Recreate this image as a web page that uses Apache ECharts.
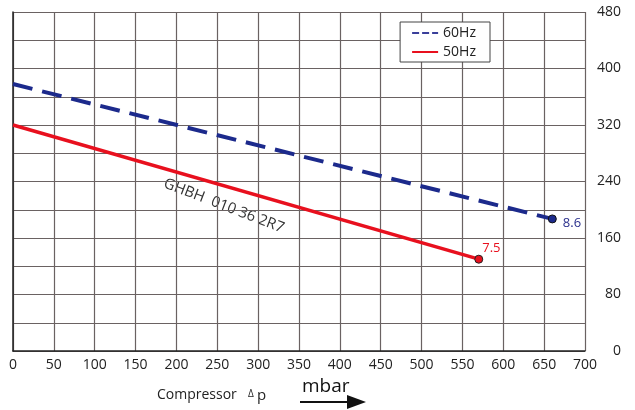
<!DOCTYPE html>
<html>
<head>
<meta charset="utf-8">
<script src="https://cdn.jsdelivr.net/npm/echarts@6/dist/echarts.min.js"></script>
<style>
  html, body { margin: 0; padding: 0; background: #fff; }
  #main { width: 635px; height: 410px; }
</style>
</head>
<body>
<div id="main"></div>
<script>
// data
const seriesNames = ['60Hz', '50Hz'];
const hz60 = [[0, 378], [660, 187]];
const hz50 = [[0, 320], [570, 130]];
const endLabels = ['8.6', '7.5'];
const xTicks = [0, 700, 50];   // min, max, step
const yTicks = [0, 480, 40];   // grid every 40, labels every 80

const chart = echarts.init(document.getElementById('main'));
const font = '"Open Sans", "Noto Sans", sans-serif';
const gridColor = '#6a6262';
const navy = '#1c2a8c';
const red = '#e8101e';

// only the last point gets a marker + label
function lastPointData(pts, label) {
  return pts.map((p, i) => i === pts.length - 1
    ? { value: p, symbolSize: 8, label: { show: true, formatter: label } }
    : { value: p, symbolSize: 0 });
}

const option = {
  animation: false,
  grid: { left: 13, right: 50, top: 12, bottom: 59 },
  xAxis: {
    type: 'value',
    min: xTicks[0], max: xTicks[1], interval: xTicks[2],
    axisLine: { show: true, lineStyle: { color: '#222', width: 1.5 } },
    axisTick: { show: false },
    splitLine: { show: true, lineStyle: { color: gridColor, width: 1.2 } },
    axisLabel: { color: '#222', fontSize: 14, fontFamily: font, margin: 7 }
  },
  yAxis: {
    type: 'value',
    position: 'right',
    min: yTicks[0], max: yTicks[1], interval: yTicks[2],
    axisLine: { show: true, lineStyle: { color: '#222', width: 1.5 } },
    axisTick: { show: false },
    splitLine: { show: true, lineStyle: { color: gridColor, width: 1.2 } },
    axisLabel: {
      color: '#222', fontSize: 14, fontFamily: font, align: 'right', margin: 36,
      formatter: v => (v % 80 === 0 ? v : '')
    }
  },
  legend: {
    right: 145, top: 22,
    orient: 'vertical',
    itemWidth: 26, itemHeight: 10, itemGap: 5,
    padding: [4, 14, 3, 12],
    backgroundColor: '#fff',
    borderColor: '#444', borderWidth: 1,
    textStyle: { fontSize: 14, color: '#222', fontFamily: font },
    data: [
      { name: seriesNames[0], icon: 'path://M0,4h7v2h-7zM10,4h7v2h-7zM20,4h6v2h-6z',
        itemStyle: { color: '#3a3f9a', borderWidth: 0 } },
      { name: seriesNames[1], icon: 'path://M0,4h26v2h-26z',
        itemStyle: { color: red, borderWidth: 0 } }
    ]
  },
  series: [
    {
      name: seriesNames[0], type: 'line',
      data: lastPointData(hz60, endLabels[0]),
      symbol: 'circle',
      lineStyle: { color: navy, width: 4, type: [20, 10] },
      itemStyle: { color: navy, borderColor: '#111', borderWidth: 1 },
      label: { position: [15, 2], color: '#2a2f8c', fontSize: 13, fontFamily: font },
      z: 3
    },
    {
      name: seriesNames[1], type: 'line',
      data: lastPointData(hz50, endLabels[1]),
      symbol: 'circle',
      lineStyle: { color: red, width: 3.5 },
      itemStyle: { color: red, borderColor: '#222', borderWidth: 1 },
      label: { position: [8, -13], color: red, fontSize: 13, fontFamily: font },
      z: 3
    }
  ],
  graphic: [
    {
      type: 'text', x: 167, y: 176, rotation: -21 * Math.PI / 180,
      style: { text: 'GHBH  010 36 2R7', fontSize: 15, fill: '#333', fontFamily: font }
    },
    {
      type: 'text', x: 157, y: 395,
      style: { text: 'Compressor', fontSize: 14, fill: '#222', fontFamily: font, verticalAlign: 'middle' }
    },
    {
      type: 'text', x: 248, y: 394,
      style: { text: 'Δ', fontSize: 10, fill: '#222', fontFamily: font, verticalAlign: 'middle' }
    },
    {
      type: 'text', x: 257, y: 396,
      style: { text: 'p', fontSize: 15, fill: '#222', fontFamily: font, verticalAlign: 'middle' }
    },
    {
      type: 'text', x: 302, y: 387,
      style: { text: 'mbar', fontSize: 19, fill: '#111', fontFamily: font, verticalAlign: 'middle' }
    },
    {
      type: 'line', shape: { x1: 300, y1: 402, x2: 352, y2: 402 },
      style: { stroke: '#111', lineWidth: 2 }
    },
    {
      type: 'polygon', shape: { points: [[347, 395], [366, 402], [347, 409]] },
      style: { fill: '#111' }
    }
  ]
};

chart.setOption(option);
</script>
</body>
</html>
